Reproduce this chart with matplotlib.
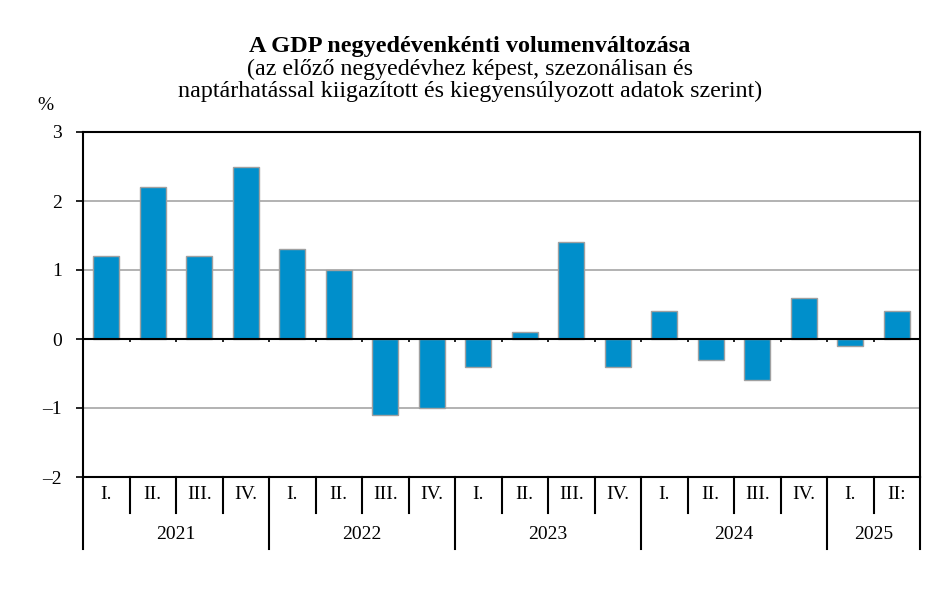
import numpy as np
import matplotlib.pyplot as plt

plt.rcParams['font.family'] = ['Liberation Serif', 'DejaVu Serif']

years = ['2021', '2022', '2023', '2024', '2025']
quarters = ['I.', 'II.', 'III.', 'IV.', 'I.', 'II.', 'III.', 'IV.',
            'I.', 'II.', 'III.', 'IV.', 'I.', 'II.', 'III.', 'IV.',
            'I.', 'II:']
quarters_per_year = [4, 4, 4, 4, 2]
values = [1.2, 2.2, 1.2, 2.5, 1.3, 1.0, -1.1, -1.0,
          -0.4, 0.1, 1.4, -0.4, 0.4, -0.3, -0.6, 0.6,
          -0.1, 0.4]

fs = 14
fig = plt.figure(figsize=(9.46, 6.16), dpi=100)
ax = fig.add_axes([83/946, 1-477/616, (920-83)/946, (477-132)/616])

x = np.arange(len(values))
ax.bar(x, values, width=0.56, color='#008fcb', edgecolor='#a0a0a0',
       linewidth=1, zorder=2)

ax.set_xlim(-0.5, len(values)-0.5)
ax.set_ylim(-2, 3)
ax.set_yticks(range(-2, 4))
ax.set_yticklabels([str(v).replace('-', '\u2013') for v in range(-2, 4)],
                   fontsize=fs)
ax.tick_params(axis='y', direction='out', length=5, width=1.2, pad=10)
ax.set_xticks([])
for y in [-1, 1, 2]:
    ax.axhline(y, color='#a6a6a6', lw=1.2, zorder=1)
ax.axhline(0, color='black', lw=1.5, zorder=3)
for s in ax.spines.values():
    s.set_linewidth(1.5)

# small ticks on the zero line
ax.vlines(np.arange(0.5, len(values)-1), -0.05, 0, color='black', lw=1.2,
          zorder=3)

# two-level category axis
tr = ax.get_xaxis_transform()
bounds = np.arange(-0.5, len(values))
year_bounds = np.concatenate([[-0.5], np.cumsum(quarters_per_year) - 0.5])
for b in bounds:
    low = -0.21 if b in year_bounds else -0.105
    ax.plot([b, b], [0, low], transform=tr, color='black', lw=1.5,
            clip_on=False)
for i, q in enumerate(quarters):
    ax.text(i, -0.052, q, transform=tr, ha='center', va='center', fontsize=fs)
for k, yr in enumerate(years):
    ax.text((year_bounds[k] + year_bounds[k+1]) / 2, -0.168, yr, transform=tr,
            ha='center', va='center', fontsize=fs)

fig.text(0.497, 0.924, 'A GDP negyedévenkénti volumenváltozása',
         ha='center', va='center', fontsize=17.5, fontweight='bold')
fig.text(0.497, 0.888, '(az előző negyedévhez képest, szezonálisan és',
         ha='center', va='center', fontsize=17.3)
fig.text(0.497, 0.852,
         'naptárhatással kiigazított és kiegyensúlyozott adatok szerint)',
         ha='center', va='center', fontsize=17.3)
fig.text(45/946, 1-105/616, '%', ha='center', va='center', fontsize=fs)

fig.savefig('out.png', dpi=100)
